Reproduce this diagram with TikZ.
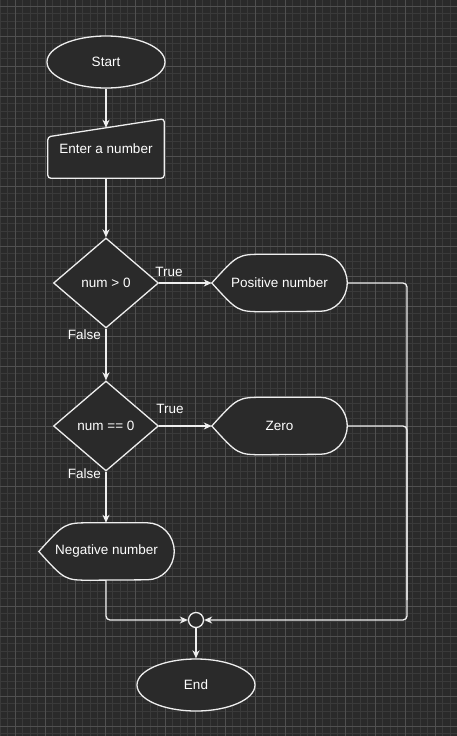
\documentclass[tikz,border=0pt]{standalone}
\usepackage{fontspec}
\setmainfont{Liberation Sans}
\usetikzlibrary{shapes.geometric,arrows.meta}

\definecolor{fondo}{HTML}{2A2A2A}
\definecolor{colmenor}{HTML}{3A3A3A}
\definecolor{colmayor}{HTML}{505050}
\definecolor{trazo}{HTML}{EEEEEE}

\pgfdeclarelayer{rejilla}
\pgfdeclarelayer{formas}
\pgfsetlayers{rejilla,formas,main}

\tikzset{
  caja/.style={draw=none, text=white, font=\fontsize{13.5}{16}\selectfont, inner sep=0pt},
  forma/.style={draw=trazo, fill=fondo, line width=1.3pt},
  terminal/.style={caja, ellipse, forma, minimum width=118pt, minimum height=52pt},
  decision/.style={caja, diamond, forma, minimum width=105pt, minimum height=90pt},
  flecha/.style={draw=trazo, line width=1.3pt, -{Stealth[length=8pt,width=7pt,inset=2.5pt]}},
  linea/.style={draw=trazo, line width=1.3pt},
  etiqueta/.style={text=white, font=\fontsize{13.5}{16}\selectfont, inner sep=0pt},
}

% Forma de "display": punta a la izquierda, arco a la derecha
\newcommand{\pantalla}[1]{%
  \path[forma] (#1.west) .. controls ([xshift=26pt]#1.north west) .. ([xshift=52pt]#1.north west)
    -- ([xshift=-27pt]#1.north east) arc[start angle=90, end angle=-90, x radius=27pt, y radius=28.5pt]
    -- ([xshift=52pt]#1.south west) .. controls ([xshift=26pt]#1.south west) .. (#1.west) -- cycle;}

\begin{document}
\begin{tikzpicture}[x=1pt, y=-1pt]
    \useasboundingbox (0,0) rectangle (457,736);

    % Pintamos el fondo y la rejilla
    \begin{pgfonlayer}{rejilla}
        \fill[fondo] (0,0) rectangle (457,736);
        \foreach \x in {0,7.5,...,457}
            \draw[colmenor, line width=0.8pt] (\x,0) -- (\x,736);
        \foreach \y in {-1.5,6,...,736}
            \draw[colmenor, line width=0.8pt] (0,\y) -- (457,\y);
        \foreach \x in {15,45,...,457}
            \draw[colmayor, line width=0.9pt] (\x,0) -- (\x,736);
        \foreach \y in {6,36,...,736}
            \draw[colmayor, line width=0.9pt] (0,\y) -- (457,\y);
    \end{pgfonlayer}

    % Nodos
    \node[terminal] (inicio) at (106,62) {Start};
    \node[caja, minimum width=116pt, minimum height=59pt] (entrada) at (106,148.5) {Enter a number};
    \node[decision] (d1) at (106,283) {num > 0};
    \node[caja, minimum width=135pt, minimum height=57pt] (pos) at (279.5,283) {Positive number};
    \node[decision] (d2) at (106,426) {num == 0};
    \node[caja, minimum width=135pt, minimum height=57pt] (cero) at (279.5,426) {Zero};
    \node[caja, minimum width=135pt, minimum height=57pt] (neg) at (106.5,551.5) {Negative number};
    \node[circle, forma, minimum size=15pt, inner sep=0pt] (union) at (196,620) {};
    \node[terminal] (fin) at (196,685) {End};

    % Formas que no trae TikZ
    \begin{pgfonlayer}{formas}
        \path[forma, rounded corners=3pt] (entrada.south west) -- ([yshift=-18pt]entrada.north west)
            -- coordinate[pos=0.5] (entradatop) (entrada.north east) -- (entrada.south east) -- cycle;
        \pantalla{pos}
        \pantalla{cero}
        \pantalla{neg}
    \end{pgfonlayer}

    % Conectores
    \coordinate (codo) at (407,620);
    \draw[flecha] (inicio) -- (entradatop);
    \draw[flecha] (entrada) -- (d1);
    \draw[flecha] (d1.east) -- (pos.west);
    \draw[flecha] (d1.south) -- (d2.north);
    \draw[flecha] (d2.east) -- (cero.west);
    \draw[flecha] (d2.south) -- (neg.north -| d2.south);
    \draw[flecha, rounded corners=4pt] (pos.east) -| (codo) -- (union.east);
    \draw[linea, rounded corners=4pt] (cero.east) -| ([yshift=20pt]codo);
    \draw[flecha, rounded corners=4pt] (neg.south -| d2.south) |- (union.west);
    \draw[flecha] (union) -- (fin);

    % Etiquetas
    \node[etiqueta] (si1) at (169,272) {True};
    \node[etiqueta] (no1) at (84.5,335) {False};
    \node[etiqueta] (si2) at (170,409) {True};
    \node[etiqueta] (no2) at (84.5,474) {False};

\end{tikzpicture}
\end{document}
